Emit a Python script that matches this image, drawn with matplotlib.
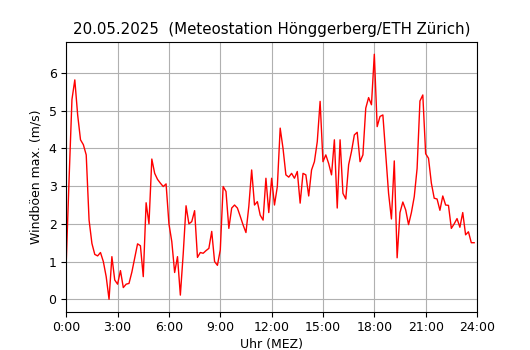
import numpy as np
import matplotlib
matplotlib.use("Agg")
import matplotlib.pyplot as plt

# Windböen max. (m/s), 10-Minuten-Werte ab 0:00
gusts = [
    1.0, 3.2, 5.3, 5.82, 4.89, 4.23, 4.1, 3.83, 2.1, 1.48,
    1.19, 1.15, 1.24, 1.0, 0.6, 0.0, 1.13, 0.51, 0.4, 0.76,
    0.31, 0.4, 0.42, 0.72, 1.1, 1.47, 1.42, 0.6, 2.56, 2.0,
    3.72, 3.34, 3.18, 3.08, 2.99, 3.06, 2.0, 1.53, 0.71, 1.13,
    0.11, 1.2, 2.48, 2.0, 2.06, 2.35, 1.11, 1.24, 1.22, 1.29,
    1.35, 1.8, 1.0, 0.9, 1.31, 2.99, 2.86, 1.88, 2.42, 2.5,
    2.42, 2.2, 1.97, 1.77, 2.46, 3.43, 2.5, 2.59, 2.23, 2.1,
    3.21, 2.3, 3.21, 2.5, 2.99, 4.54, 4.0, 3.3, 3.24, 3.34,
    3.21, 3.39, 2.55, 3.34, 3.3, 2.74, 3.43, 3.65, 4.18, 5.25,
    3.65, 3.83, 3.6, 3.3, 4.23, 2.42, 4.23, 2.81, 2.66, 3.57,
    3.92, 4.36, 4.43, 3.65, 3.83, 5.07, 5.35, 5.16, 6.5, 4.58,
    4.85, 4.89, 3.83, 2.81, 2.13, 3.67, 1.1, 2.3, 2.58, 2.37,
    1.98, 2.3, 2.72, 3.47, 5.26, 5.42, 3.86, 3.74, 3.08, 2.68,
    2.66, 2.36, 2.74, 2.5, 2.49, 1.88, 2.0, 2.14, 1.91, 2.3,
    1.71, 1.79, 1.5, 1.5,
]
hours = np.arange(len(gusts)) / 6.0  # Stunden seit Mitternacht

tick_hours = [0, 3, 6, 9, 12, 15, 18, 21, 24]
tick_labels = [f"{h}:00" for h in tick_hours]

fig, ax = plt.subplots(figsize=(5.3, 3.5), dpi=100)
ax.plot(hours, gusts, color="red", linewidth=1)
ax.set_xlim(0, 24)
ax.set_xticks(tick_hours)
ax.set_xticklabels(tick_labels)
ax.grid(True)
ax.set_title("20.05.2025  (Meteostation Hönggerberg/ETH Zürich)", fontsize=10.8)
ax.set_xlabel("Uhr (MEZ)", fontsize=9, labelpad=2.5)
ax.set_ylabel("Windböen max. (m/s)", fontsize=9)
ax.tick_params(labelsize=9)

fig.savefig("out.png", dpi=100)
